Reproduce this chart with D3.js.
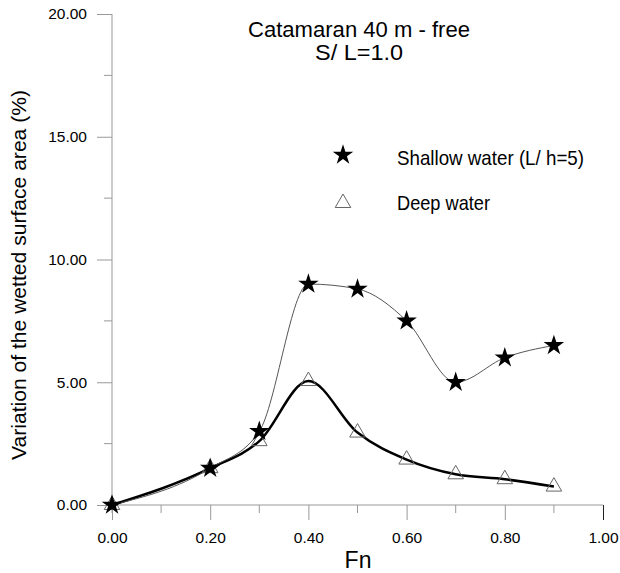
<!DOCTYPE html>
<html>
<head>
<meta charset="utf-8">
<script src="https://cdn.jsdelivr.net/npm/d3@7"></script>
<style>
body { margin: 0; background: #fff; }
text { font-family: "Liberation Sans", Arial, sans-serif; fill: #000; }
</style>
</head>
<body>
<div id="vis"></div>
<script>
const width = 620;
const height = 573;

// values
const fn = [0.0, 0.2, 0.3, 0.4, 0.5, 0.6, 0.7, 0.8, 0.9];
const shallow = [0.0, 1.5, 3.0, 9.0, 8.8, 7.5, 5.0, 6.0, 6.5];
const deep = [0.0, 1.5, 2.6, 5.05, 2.95, 1.85, 1.25, 1.05, 0.75];
const xTicks = [0, 0.2, 0.4, 0.6, 0.8, 1.0];
const xMinor = [0.1, 0.3, 0.5, 0.7, 0.9];
const yTicks = [0, 5, 10, 15, 20];
const yMinor = [2.5, 7.5, 12.5, 17.5];

const x = d3.scaleLinear().domain([0, 1]).range([112, 603]);
const y = d3.scaleLinear().domain([0, 20]).range([505, 14]);

const svg = d3.select("#vis")
	.append("svg")
		.attr("width", width)
		.attr("height", height);

const axisColor = "#999";

// x axis
const gx = svg.append("g")
	.attr("transform", `translate(0,${y(0)})`)
	.call(d3.axisBottom(x).tickValues(xTicks).tickSize(15).tickFormat(d3.format(".2f")).tickSizeOuter(0));
gx.select(".domain").attr("stroke", axisColor).attr("d", `M${x(0)},0H${x(1)}`);
gx.selectAll(".tick line").attr("stroke", axisColor);
gx.selectAll(".tick line").filter(d => d === 1).attr("stroke", "#222");
gx.selectAll(".tick text").attr("font-size", 15.5).attr("dy", 0).attr("y", 38)
	.style("font-family", "Liberation Sans, Arial, sans-serif");
gx.selectAll(".minor").data(xMinor).enter().append("line")
	.attr("x1", d => x(d)).attr("x2", d => x(d))
	.attr("y1", 0).attr("y2", 8)
	.attr("stroke", axisColor);

// y axis
const gy = svg.append("g")
	.attr("transform", `translate(${x(0)},0)`)
	.call(d3.axisLeft(y).tickValues(yTicks).tickSize(15).tickFormat(d3.format(".2f")).tickSizeOuter(0));
gy.select(".domain").attr("stroke", axisColor).attr("d", `M0,${y(20)}V${y(0) + 8}`);
gy.selectAll(".tick line").attr("stroke", axisColor);
gy.selectAll(".tick text").attr("font-size", 15.5).attr("x", -25)
	.style("font-family", "Liberation Sans, Arial, sans-serif");
gy.selectAll(".minor").data(yMinor).enter().append("line")
	.attr("y1", d => y(d)).attr("y2", d => y(d))
	.attr("x1", 0).attr("x2", -8)
	.attr("stroke", axisColor);

// axis titles
svg.append("text")
	.attr("x", 358).attr("y", 568)
	.attr("text-anchor", "middle")
	.attr("font-size", 23)
	.text("Fn");

svg.append("text")
	.attr("transform", "translate(26,275) rotate(-90)")
	.attr("text-anchor", "middle")
	.attr("font-size", 21)
	.attr("textLength", 370).attr("lengthAdjust", "spacingAndGlyphs")
	.text("Variation of the wetted surface area (%)");

// title
svg.append("text")
	.attr("x", 359).attr("y", 37)
	.attr("text-anchor", "middle")
	.attr("font-size", 22)
	.attr("textLength", 222).attr("lengthAdjust", "spacingAndGlyphs")
	.text("Catamaran 40 m - free");
svg.append("text")
	.attr("x", 359).attr("y", 60)
	.attr("text-anchor", "middle")
	.attr("font-size", 22)
	.attr("textLength", 88).attr("lengthAdjust", "spacingAndGlyphs")
	.text("S/ L=1.0");

// curves
const line = d3.line()
	.x(d => x(d[0]))
	.y(d => y(d[1]))
	.curve(d3.curveMonotoneX);

svg.append("path")
	.attr("d", line(d3.zip(fn, deep)))
	.attr("fill", "none")
	.attr("stroke", "#000")
	.attr("stroke-width", 2.5);

svg.append("path")
	.attr("d", line(d3.zip(fn, shallow)))
	.attr("fill", "none")
	.attr("stroke", "#555")
	.attr("stroke-width", 1);

// markers
const star = d3.symbol().type(d3.symbolStar).size(130);
const tri = d3.symbol().type(d3.symbolTriangle).size(105);

svg.append("g").selectAll("path")
	.data(d3.zip(fn, deep))
	.enter().append("path")
		.attr("d", tri)
		.attr("transform", d => `translate(${x(d[0])},${y(d[1])})`)
		.attr("fill", "none")
		.attr("stroke", "#666")
		.attr("stroke-width", 1);

svg.append("g").selectAll("path")
	.data(d3.zip(fn, shallow))
	.enter().append("path")
		.attr("d", star)
		.attr("transform", d => `translate(${x(d[0])},${y(d[1])})`)
		.attr("fill", "#000");

// legend
svg.append("path").attr("d", star).attr("transform", "translate(343,155)").attr("fill", "#000");
svg.append("path").attr("d", tri).attr("transform", "translate(343,203)")
	.attr("fill", "none").attr("stroke", "#666");
svg.append("text")
	.attr("x", 397).attr("y", 165)
	.attr("font-size", 21)
	.attr("textLength", 187).attr("lengthAdjust", "spacingAndGlyphs")
	.text("Shallow water (L/ h=5)");
svg.append("text")
	.attr("x", 397).attr("y", 210)
	.attr("font-size", 21)
	.attr("textLength", 93).attr("lengthAdjust", "spacingAndGlyphs")
	.text("Deep water");
</script>
</body>
</html>
